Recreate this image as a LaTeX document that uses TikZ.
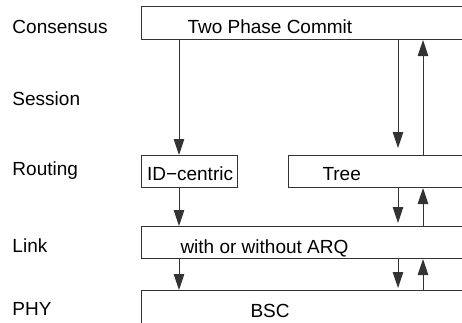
\documentclass[tikz,border=0pt]{standalone}
\usepackage{fontspec}
\setmainfont{Liberation Sans}
\usetikzlibrary{arrows.meta}
\begin{document}
\begin{tikzpicture}[x=1pt,y=-1pt,
  line width=1pt,
  every node/.style={font=\fontsize{19}{22}\selectfont, inner sep=0pt},
  layer/.style={draw=black!80, rectangle, anchor=north west, minimum height=33pt},
  txt/.style={anchor=base west, text=black},
  flow/.style={draw=black!80, -{Triangle[length=16pt,width=10.5pt]}}]
  \useasboundingbox (0,0) rectangle (462,322);
  \clip (0,0) rectangle (462,322);
  \fill[white] (0,0) rectangle (462,322);

  % layer names
  \node[txt] (lcons) at (12,33)  {Consensus};
  \node[txt] (lsess) at (12,105) {Session};
  \node[txt] (lrout) at (12,175) {Routing};
  \node[txt] (llink) at (12,252) {Link};
  \node[txt] (lphy)  at (12,315) {PHY};

  % protocol boxes
  \node[layer, minimum width=340pt] (tpc)  at (141,6)   {};
  \node[layer, minimum width=96pt, minimum height=32pt] (idc) at (141,155) {};
  \node[layer, minimum width=200pt, minimum height=32pt] (tree) at (288,155) {};
  \node[layer, minimum width=340pt, minimum height=32pt] (link) at (141,226) {};
  \node[layer, minimum width=340pt, minimum height=40pt] (phy)  at (141,290) {};

  % box texts
  \node[txt] (ttpc)  at (187,33)  {Two Phase Commit};
  \node[txt] (tidc)  at (146.5,180) {ID\char"2212 centric};
  \node[txt] (ttree) at (322,180) {Tree};
  \node[txt] (tlink) at (180,253) {with or without ARQ};
  \node[txt] (tphy)  at (250,317) {BSC};

  % columns of the message flows
  \coordinate (cl) at (179,0);
  \coordinate (cd) at (398,0);
  \coordinate (cu) at (423,0);

  % left path: consensus -> ID-centric -> link -> PHY
  \draw[flow] (tpc.south -| cl) -- (idc.north -| cl);
  \draw[flow] (idc.south -| cl) -- (link.north -| cl);
  \draw[flow] (link.south -| cl) -- (phy.north -| cl);

  % right path down through the tree
  \draw[flow, shorten >=7pt] (tpc.south -| cd) -- (tree.north -| cd);
  \draw[flow, shorten >=3pt] (tree.south -| cd) -- (link.north -| cd);
  \draw[flow, shorten >=2pt] (link.south -| cd) -- (phy.north -| cd);

  % right path back up
  \draw[flow] (tree.north -| cu) -- (tpc.south -| cu);
  \draw[flow] (link.north -| cu) -- (tree.south -| cu);
  \draw[flow] (phy.north -| cu) -- (link.south -| cu);
\end{tikzpicture}
\end{document}
